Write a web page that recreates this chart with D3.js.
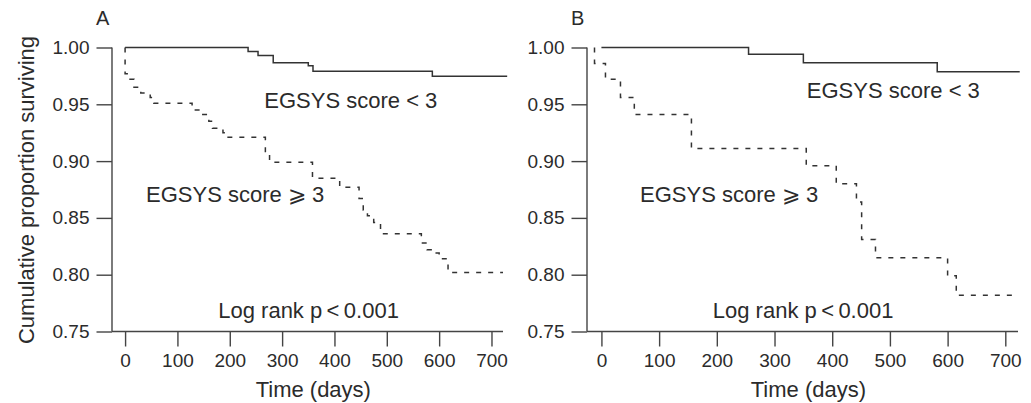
<!DOCTYPE html>
<html>
<head>
<meta charset="utf-8">
<script src="https://cdn.jsdelivr.net/npm/d3@7"></script>
<style>
  html, body { margin: 0; padding: 0; background: #fff; }
  svg text { font-family: "Liberation Sans", Arial, Helvetica, sans-serif; fill: #2b2b2b; }
</style>
</head>
<body>
<svg id="chart" width="1031" height="403"></svg>
<script>
// Kaplan–Meier estimates: [time in days, cumulative proportion surviving]
const lowScoreA  = [[0, 1.0], [235, 0.9965], [254, 0.993], [283, 0.9865], [350, 0.984], [359, 0.979], [587, 0.9747], [730, 0.9747]];
const highScoreA = [[0, 1.0], [0, 0.977], [4, 0.972], [17, 0.965], [30, 0.960], [48, 0.956], [55, 0.951],
                    [128, 0.945], [145, 0.941], [160, 0.935], [167, 0.929], [187, 0.925], [195, 0.921],
                    [268, 0.907], [276, 0.899], [358, 0.885], [410, 0.877], [447, 0.867], [455, 0.857],
                    [463, 0.852], [475, 0.846], [488, 0.836], [566, 0.828], [577, 0.822], [588, 0.819],
                    [600, 0.814], [617, 0.802], [722, 0.802]];
const lowScoreB  = [[0, 1.0], [255, 0.994], [350, 0.9865], [582, 0.9786], [725, 0.9786]];
const highScoreB = [[-12, 1.0], [-12, 0.986], [7, 0.972], [33, 0.956], [57, 0.941], [156, 0.911],
                    [355, 0.896], [407, 0.880], [442, 0.864], [451, 0.831], [475, 0.815],
                    [600, 0.799], [615, 0.782], [712, 0.782]];

const timeTicks = [0, 100, 200, 300, 400, 500, 600, 700];
const survTicks = [0.75, 0.80, 0.85, 0.90, 0.95, 1.00];
const panelNames = ["A", "B"];
const lowLabel = "EGSYS score < 3";
const highLabel = "EGSYS score \u2A7E 3";
const testLabel = "Log rank p\u2009<\u20090.001";
const xTitle = "Time (days)";
const yTitle = "Cumulative proportion surviving";

const svg = d3.select("#chart");
const ink = "#333";

const panels = [
  { name: panelNames[0], low: lowScoreA, high: highScoreA, left: 112, right: 503,
    lowAt: [266, 0.9467], highAt: [40, 0.864], testAt: [178, 0.762] },
  { name: panelNames[1], low: lowScoreB, high: highScoreB, left: 587, right: 1018,
    lowAt: [356, 0.9555], highAt: [67, 0.864], testAt: [193, 0.762] }
];

const plotTop = 47.5, plotBottom = 331.5;

panels.forEach(p => {
  const x = d3.scaleLinear().domain([-25, 722]).range([p.left, p.right]);
  const y = d3.scaleLinear().domain([0.75, 1.0]).range([plotBottom, plotTop]);
  const g = svg.append("g");

  // y axis
  const yAxis = g.append("g").attr("transform", `translate(${p.left},0)`)
    .call(d3.axisLeft(y).tickValues(survTicks).tickFormat(d3.format(".2f"))
      .tickSize(15.5).tickPadding(7));
  yAxis.select(".domain").attr("d", `M0,${plotTop}V${plotBottom}`);
  yAxis.selectAll("line, path").attr("stroke", "#444").attr("stroke-width", 1.4);
  yAxis.selectAll("text").attr("font-size", 19).attr("fill", "#2b2b2b")
    .style("font-family", '"Liberation Sans", Arial, sans-serif');

  // x axis
  const xAxis = g.append("g").attr("transform", `translate(0,${plotBottom})`)
    .call(d3.axisBottom(x).tickValues(timeTicks).tickFormat(d3.format("d"))
      .tickSize(15).tickPadding(7));
  xAxis.select(".domain").attr("d", `M${p.left},0H${p.right}`);
  xAxis.selectAll("line, path").attr("stroke", "#444").attr("stroke-width", 1.4);
  xAxis.selectAll("text").attr("font-size", 19).attr("fill", "#2b2b2b")
    .style("font-family", '"Liberation Sans", Arial, sans-serif');

  const line = d3.line().x(d => x(d[0])).y(d => y(d[1])).curve(d3.curveStepAfter);

  g.append("path").datum(p.low).attr("d", line)
    .attr("fill", "none").attr("stroke", ink).attr("stroke-width", 1.5);
  g.append("path").datum(p.high).attr("d", line)
    .attr("fill", "none").attr("stroke", ink).attr("stroke-width", 1.5)
    .attr("stroke-dasharray", "5,7");

  // curve labels
  g.append("text").attr("x", x(p.lowAt[0])).attr("y", y(p.lowAt[1]))
    .attr("font-size", 22).text(lowLabel);
  g.append("text").attr("x", x(p.highAt[0])).attr("y", y(p.highAt[1]))
    .attr("font-size", 22).text(highLabel);
  g.append("text").attr("x", x(p.testAt[0])).attr("y", y(p.testAt[1]))
    .attr("font-size", 22).text(testLabel);

  // x title
  g.append("text").attr("x", (x(0) + x(700)) / 2 + 5).attr("y", 397)
    .attr("text-anchor", "middle").attr("font-size", 22).text(xTitle);

  // panel letter
  g.append("text").attr("x", p.left - 16).attr("y", 25)
    .attr("font-size", 20).text(p.name);
});

// shared y title
svg.append("text")
  .attr("transform", "translate(34,190) rotate(-90)")
  .attr("text-anchor", "middle").attr("font-size", 22).text(yTitle);
</script>
</body>
</html>
